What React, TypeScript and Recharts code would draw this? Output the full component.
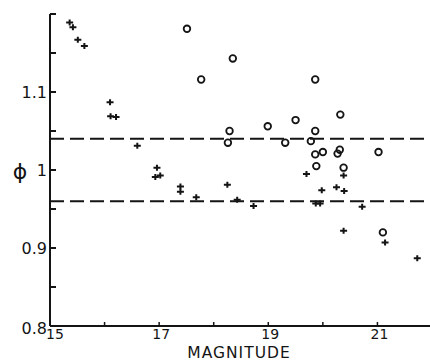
import React from 'react';
import { ScatterChart, Scatter, XAxis, YAxis, ReferenceLine } from 'recharts';

// "+" points: magnitude and phi
const crossMag = [15.36, 15.42, 15.51, 15.63, 16.10, 16.11, 16.21, 16.60, 16.96, 16.93, 17.02, 17.39, 17.39, 17.68, 18.25, 18.43, 18.73, 19.70, 19.98, 20.25, 20.39, 19.87, 19.95, 20.72, 20.38, 21.14, 21.73, 20.38];
const crossPhi = [1.189, 1.183, 1.167, 1.159, 1.087, 1.069, 1.068, 1.031, 1.003, 0.991, 0.993, 0.979, 0.972, 0.965, 0.981, 0.962, 0.954, 0.995, 0.974, 0.978, 0.973, 0.957, 0.957, 0.953, 0.922, 0.907, 0.887, 0.993];

// "o" points: magnitude and phi
const circleMag = [17.51, 17.77, 18.35, 18.29, 18.26, 18.99, 19.31, 19.50, 19.86, 20.32, 19.86, 19.78, 19.86, 20.00, 19.88, 20.31, 20.27, 20.38, 21.02, 21.10];
const circlePhi = [1.181, 1.116, 1.143, 1.050, 1.035, 1.056, 1.035, 1.064, 1.116, 1.071, 1.050, 1.037, 1.020, 1.023, 1.005, 1.026, 1.021, 1.003, 1.023, 0.920];

const xTicks = [15, 16, 17, 18, 19, 20, 21, 22];
const xLabeled = [15, 17, 19, 21];
const yTicks = [0.8, 0.85, 0.9, 0.95, 1, 1.05, 1.1, 1.15, 1.2];
const yLabeled = [0.8, 0.9, 1, 1.1];
const bandLimits = [1.04, 0.96];

const crossData = crossMag.map((m, i) => ({ mag: m, phi: crossPhi[i] }));
const circleData = circleMag.map((m, i) => ({ mag: m, phi: circlePhi[i] }));

const INK = '#141414';
const FONT = '"DejaVu Sans", sans-serif';

const close = (a: number, b: number) => Math.abs(a - b) < 1e-6;

const YTick = (props: any) => {
  const { x, y, payload } = props;
  const v = payload.value;
  const lab = yLabeled.find((t) => close(t, v));
  return (
    <g>
      <line x1={x} x2={x + 6} y1={y} y2={y} stroke={INK} strokeWidth={2} />
      {lab !== undefined && (
        <text x={x - 3} y={y + (close(v, 0.8) ? 8 : 6)} textAnchor="end" fontSize={16} fontFamily={FONT} fill={INK}>
          {String(lab)}
        </text>
      )}
    </g>
  );
};

const XTick = (props: any) => {
  const { x, y, payload } = props;
  const v = payload.value;
  const lab = xLabeled.find((t) => close(t, v));
  return (
    <g>
      <line x1={x} x2={x} y1={y} y2={y - 4} stroke={INK} strokeWidth={1.5} />
      {lab !== undefined && (
        <text x={x + (close(v, 15) ? 5 : 2)} y={y + 13} textAnchor="middle" fontSize={14} fontFamily={FONT} fill={INK}>
          {String(lab)}
        </text>
      )}
    </g>
  );
};

const PlusShape = (props: any) => {
  const { cx, cy } = props;
  return <path d={`M${cx - 3.5},${cy}h7M${cx},${cy - 3}v6`} stroke={INK} strokeWidth={2} fill="none" />;
};

const CircleShape = (props: any) => {
  const { cx, cy } = props;
  return <circle cx={cx} cy={cy} r={3.3} stroke={INK} strokeWidth={1.8} fill="none" />;
};

export default function App() {
  return (
    <div style={{ position: 'absolute', left: 0, top: 0, width: 430, height: 361, overflow: 'hidden', background: '#fff' }}>
      <ScatterChart width={432} height={361} margin={{ top: 14, right: 0, bottom: 5, left: 0 }}>
        <XAxis
          type="number"
          dataKey="mag"
          domain={[15, 22]}
          ticks={xTicks}
          allowDataOverflow
          height={30}
          tickSize={0}
          tickMargin={0}
          tickLine={false}
          axisLine={{ stroke: INK, strokeWidth: 2 }}
          tick={<XTick />}
          interval={0}
          label={{
            content: (p: any) => {
              const vb = p.viewBox;
              return (
                <text x={vb.x + vb.width / 2 - 2} y={vb.y + vb.height + 1.5} textAnchor="middle" fontSize={15.5} letterSpacing={1} fontFamily={FONT} fill={INK}>
                  MAGNITUDE
                </text>
              );
            },
          }}
        />
        <YAxis
          type="number"
          dataKey="phi"
          domain={[0.8, 1.2]}
          ticks={yTicks}
          allowDataOverflow
          width={50}
          tickSize={0}
          tickMargin={0}
          tickLine={false}
          axisLine={{ stroke: INK, strokeWidth: 2 }}
          tick={<YTick />}
          interval={0}
          label={{
            content: (p: any) => {
              const vb = p.viewBox;
              return (
                <text x={vb.x + 20} y={vb.y + vb.height / 2 + 9} textAnchor="middle" fontSize={22} fontFamily={FONT} fill={INK}>
                  ϕ
                </text>
              );
            },
          }}
        />
        {bandLimits.map((v) => (
          <ReferenceLine key={v} y={v} stroke={INK} strokeWidth={2} strokeDasharray="14 6" />
        ))}
        <Scatter data={crossData} shape={<PlusShape />} isAnimationActive={false} />
        <Scatter data={circleData} shape={<CircleShape />} isAnimationActive={false} />
      </ScatterChart>
    </div>
  );
}
